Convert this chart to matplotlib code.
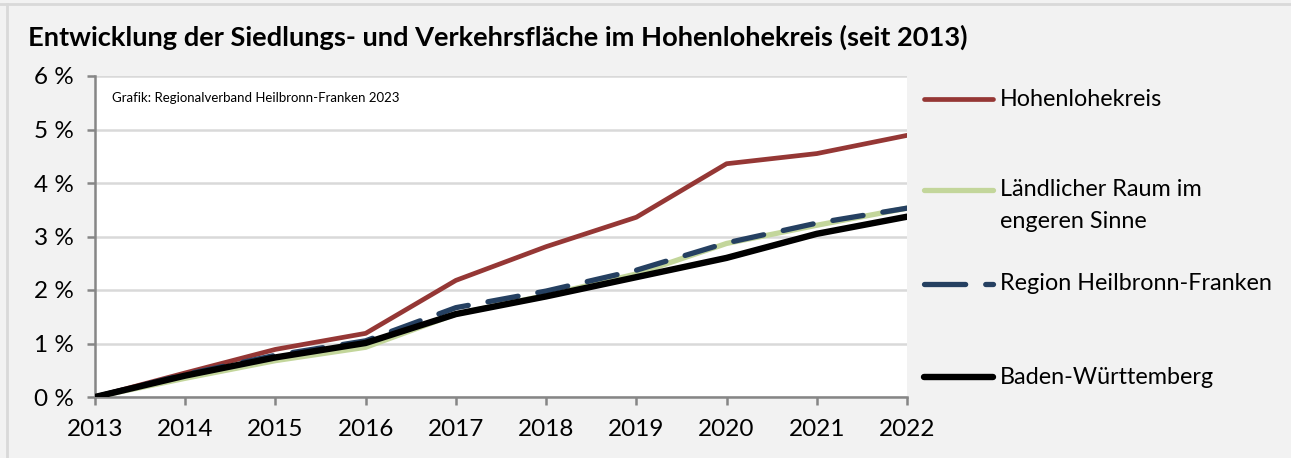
import matplotlib
matplotlib.use("Agg")
import matplotlib.pyplot as plt
from matplotlib.lines import Line2D
from matplotlib.ticker import FuncFormatter

plt.rcParams['font.family'] = ['Lato', 'DejaVu Sans']

years = [2013, 2014, 2015, 2016, 2017, 2018, 2019, 2020, 2021, 2022]

# Zuwachs der Siedlungs- und Verkehrsfläche gegenüber 2013 in %
hohenlohekreis = [0.0, 0.45, 0.89, 1.19, 2.18, 2.81, 3.36, 4.36, 4.55, 4.89]
laendlicher_raum = [0.0, 0.35, 0.68, 0.93, 1.55, 1.90, 2.30, 2.87, 3.21, 3.53]
region_hnf = [0.0, 0.42, 0.78, 1.05, 1.67, 1.98, 2.37, 2.88, 3.25, 3.53]
baden_wuerttemberg = [0.0, 0.40, 0.74, 1.01, 1.55, 1.88, 2.24, 2.60, 3.05, 3.37]

labels = ["Hohenlohekreis", "Ländlicher Raum im\nengeren Sinne",
          "Region Heilbronn-Franken", "Baden-Württemberg"]
y_ticks = [0, 1, 2, 3, 4, 5, 6]

RED = "#953735"
GREEN = "#C3D69B"
BLUE = "#254061"
BLACK = "#000000"
AXIS_GREY = "#868686"
GRID_GREY = "#D9D9D9"

W, H = 1291, 458
fig = plt.figure(figsize=(W / 100, H / 100), dpi=100, facecolor="#F2F2F2")
# Rahmen oben und links
fig.add_artist(Line2D([0, 1], [1 - 4 / H, 1 - 4 / H], transform=fig.transFigure,
                      color="#D9D9D9", linewidth=2))
fig.add_artist(Line2D([7 / W, 7 / W], [0, 1 - 4 / H], transform=fig.transFigure,
                      color="#D9D9D9", linewidth=2))

ax = fig.add_axes([95 / W, 1 - 397 / H, 812 / W, 321 / H])
ax.set_facecolor("white")

ax.plot(years, hohenlohekreis, color=RED, linewidth=3.4, solid_capstyle="round", zorder=3)
ax.plot(years, laendlicher_raum, color=GREEN, linewidth=3.8, solid_capstyle="round", zorder=4)
ax.plot(years, region_hnf, color=BLUE, linewidth=3.8, dashes=(5.8, 3.8),
        dash_capstyle="round", zorder=5)
ax.plot(years, baden_wuerttemberg, color=BLACK, linewidth=4.6, solid_capstyle="round", zorder=6)

ax.set_xlim(years[0], years[-1])
ax.set_ylim(y_ticks[0], y_ticks[-1])
ax.set_xticks(years)
ax.set_yticks(y_ticks)
ax.yaxis.set_major_formatter(FuncFormatter(lambda v, _: f"{v:.0f} %"))

ax.grid(axis="y", color=GRID_GREY, linewidth=1.8, zorder=0)
ax.set_axisbelow(True)
for side in ("top", "right"):
    ax.spines[side].set_visible(False)
for side in ("left", "bottom"):
    ax.spines[side].set_color(AXIS_GREY)
    ax.spines[side].set_linewidth(1.8)
ax.tick_params(axis="both", colors=AXIS_GREY, length=6, width=1.8, labelsize=17.5,
               labelcolor="black")
ax.tick_params(axis="x", pad=10)
ax.tick_params(axis="y", pad=9)

ax.text(0.021, 0.93, "Grafik: Regionalverband Heilbronn-Franken 2023",
        transform=ax.transAxes, fontsize=9.5, va="center", ha="left")

fig.text(28 / W, 1 - 37 / H,
         "Entwicklung der Siedlungs- und Verkehrsfläche im Hohenlohekreis (seit 2013)",
         fontsize=19.6, fontweight="bold", va="center", ha="left")

# Legende rechts neben dem Diagramm
legend_y = [99, 190, 284, 377]
legend_styles = [
    dict(color=RED, linewidth=3.4, solid_capstyle="round"),
    dict(color=GREEN, linewidth=3.8, solid_capstyle="round"),
    dict(color=BLUE, linewidth=3.8, dashes=(7.8, 3.8), dash_capstyle="round"),
    dict(color=BLACK, linewidth=4.6, solid_capstyle="round"),
]
for y, label, style in zip(legend_y, labels, legend_styles):
    yf = 1 - y / H
    fig.add_artist(Line2D([924 / W, 993 / W], [yf, yf], transform=fig.transFigure, **style))
    lines = label.split("\n")
    for i, text in enumerate(lines):
        fig.text(1000 / W, yf - i * 32 / H, text, fontsize=16.8, va="center", ha="left")

fig.savefig("out.png", dpi=100, facecolor=fig.get_facecolor())
